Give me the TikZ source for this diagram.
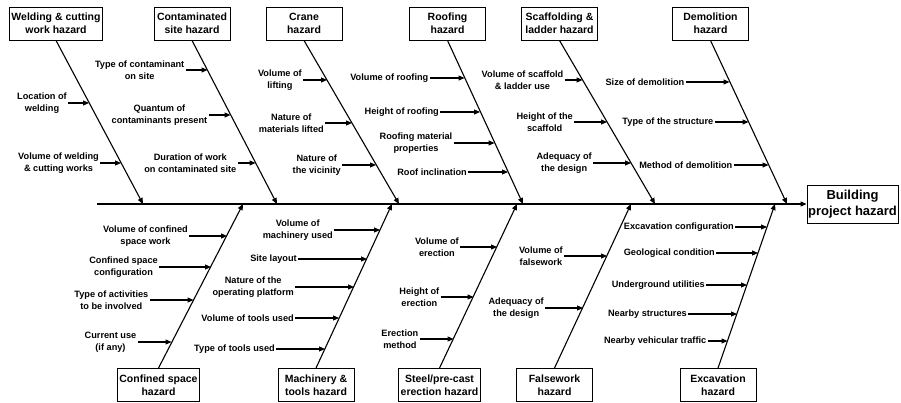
\documentclass[tikz,border=0pt]{standalone}
\usepackage{fontspec}
\setmainfont{Liberation Sans}
\usetikzlibrary{arrows.meta,positioning}

\begin{document}
\begin{tikzpicture}[
  x=1pt, y=-1pt,
  hazard/.style={draw, line width=0.9pt, align=center,
  font=\fontsize{10.5}{13}\selectfont\bfseries, minimum width=76pt,
  minimum height=33pt, inner xsep=2pt, inner ysep=1pt},
  cause/.style={align=center, font=\fontsize{9.2}{12}\selectfont\bfseries, inner sep=1pt},
  arrow/.style={-{Triangle[length=6pt, width=5pt]}, line width=1.1pt}
]
  \useasboundingbox (0,0) rectangle (901,403);

  \node[hazard, font=\fontsize{13}{15.5}\selectfont\bfseries, minimum width=91pt,
    minimum height=38pt, inner xsep=1pt] (effect) at (852.5,204) {Building\\project hazard};
  \coordinate (tail) at (97,204);
  \draw[arrow] (tail) -- (effect.west);

  \node[hazard] (weld) at (56,23.5) {Welding \& cutting\\work hazard};
  \node[hazard] (contam) at (192,23.5) {Contaminated\\site hazard};
  \node[hazard] (crane) at (304,23.5) {Crane\\hazard};
  \node[hazard] (roof) at (447.5,23.5) {Roofing\\hazard};
  \node[hazard] (scaff) at (559.5,23.5) {Scaffolding \&\\ladder hazard};
  \node[hazard] (demo) at (710.5,23.5) {Demolition\\hazard};

  \node[hazard] (confined) at (158.5,385) {Confined space\\hazard};
  \node[hazard] (machine) at (316,385) {Machinery \&\\tools hazard};
  \node[hazard] (steel) at (439.5,385) {Steel/pre-cast\\erection hazard};
  \node[hazard] (falsew) at (554.5,385) {Falsework\\hazard};
  \node[hazard] (excav) at (718,385) {Excavation\\hazard};

  \coordinate (weldend) at (143,204);
  \coordinate (contamend) at (277,204);
  \coordinate (craneend) at (399,204);
  \coordinate (roofend) at (523,204);
  \coordinate (scaffend) at (655,204);
  \coordinate (demoend) at (787,204);
  \coordinate (confinedend) at (243,204);
  \coordinate (machineend) at (392,204);
  \coordinate (steelend) at (517,204);
  \coordinate (falsewend) at (631,204);
  \coordinate (excavend) at (775,204);

  \draw[arrow] (weld.south) -- (weldend);
  \draw[arrow] (contam.south) -- (contamend);
  \draw[arrow] (crane.south) -- (craneend);
  \draw[arrow] (roof.south) -- (roofend);
  \draw[arrow] (scaff.south) -- (scaffend);
  \draw[arrow] (demo.south) -- (demoend);
  \draw[arrow] (confined.north) -- (confinedend);
  \draw[arrow] (machine.north) -- (machineend);
  \draw[arrow] (steel.north) -- (steelend);
  \draw[arrow] (falsew.north) -- (falsewend);
  \draw[arrow] (excav.north) -- (excavend);

  \coordinate (weld1) at (89,103);
  \coordinate (weld2) at (121,163);
  \node[cause, left=21pt of weld1] (weld1txt) {Location of\\welding};
  \node[cause, left=21pt of weld2] (weld2txt) {Volume of welding\\\& cutting works};
  \draw[arrow] (weld1txt.east) -- (weld1);
  \draw[arrow] (weld2txt.east) -- (weld2);

  \coordinate (contam1) at (207.5,70);
  \coordinate (contam2) at (230.5,115);
  \coordinate (contam3) at (255.5,163);
  \node[cause, left=22pt of contam1] (contam1txt) {Type of contaminant\\on site};
  \node[cause, left=22pt of contam2] (contam2txt) {Quantum of\\contaminants present};
  \node[cause, left=18pt of contam3] (contam3txt) {Duration of work\\on contaminated site};
  \draw[arrow] (contam1txt.east) -- (contam1);
  \draw[arrow] (contam2txt.east) -- (contam2);
  \draw[arrow] (contam3txt.east) -- (contam3);

  \coordinate (crane1) at (327,80);
  \coordinate (crane2) at (352,123);
  \coordinate (crane3) at (376,165);
  \node[cause, left=24pt of crane1] (crane1txt) {Volume of\\lifting};
  \node[cause, left=27pt of crane2] (crane2txt) {Nature of\\materials lifted};
  \node[cause, left=34pt of crane3] (crane3txt) {Nature of\\the vicinity};
  \draw[arrow] (crane1txt.east) -- (crane1);
  \draw[arrow] (crane2txt.east) -- (crane2);
  \draw[arrow] (crane3txt.east) -- (crane3);

  \coordinate (roof1) at (464.5,78);
  \coordinate (roof2) at (480,112);
  \coordinate (roof3) at (494.5,143);
  \coordinate (roof4) at (508,172);
  \node[cause, left=35pt of roof1] (roof1txt) {Volume of roofing};
  \node[cause, left=40pt of roof2] (roof2txt) {Height of roofing};
  \node[cause, left=41pt of roof3] (roof3txt) {Roofing material\\properties};
  \node[cause, left=40pt of roof4] (roof4txt) {Roof inclination};
  \draw[arrow] (roof1txt.east) -- (roof1);
  \draw[arrow] (roof2txt.east) -- (roof2);
  \draw[arrow] (roof3txt.east) -- (roof3);
  \draw[arrow] (roof4txt.east) -- (roof4);

  \coordinate (scaff1) at (582.5,80);
  \coordinate (scaff2) at (607,122);
  \coordinate (scaff3) at (631,163);
  \node[cause, left=18pt of scaff1] (scaff1txt) {Volume of scaffold\\\& ladder use};
  \node[cause, left=33pt of scaff2] (scaff2txt) {Height of the\\scaffold};
  \node[cause, left=38pt of scaff3] (scaff3txt) {Adequacy of\\the design};
  \draw[arrow] (scaff1txt.east) -- (scaff1);
  \draw[arrow] (scaff2txt.east) -- (scaff2);
  \draw[arrow] (scaff3txt.east) -- (scaff3);

  \coordinate (demo1) at (729.5,82);
  \coordinate (demo2) at (748.5,122);
  \coordinate (demo3) at (768.5,165);
  \node[cause, left=44pt of demo1] (demo1txt) {Size of demolition};
  \node[cause, left=34pt of demo2] (demo2txt) {Type of the structure};
  \node[cause, left=35pt of demo3] (demo3txt) {Method of demolition};
  \draw[arrow] (demo1txt.east) -- (demo1);
  \draw[arrow] (demo2txt.east) -- (demo2);
  \draw[arrow] (demo3txt.east) -- (demo3);

  \coordinate (confined1) at (227,236);
  \coordinate (confined2) at (211,267);
  \coordinate (confined3) at (193.5,300);
  \coordinate (confined4) at (171.5,342);
  \node[cause, left=38pt of confined1] (confined1txt) {Volume of confined\\space work};
  \node[cause, left=52pt of confined2] (confined2txt) {Confined space\\configuration};
  \node[cause, left=44pt of confined3] (confined3txt) {Type of activities\\to be involved};
  \node[cause, left=34pt of confined4] (confined4txt) {Current use\\(if any)};
  \draw[arrow] (confined1txt.east) -- (confined1);
  \draw[arrow] (confined2txt.east) -- (confined2);
  \draw[arrow] (confined3txt.east) -- (confined3);
  \draw[arrow] (confined4txt.east) -- (confined4);

  \coordinate (machine1) at (380,230);
  \coordinate (machine2) at (367,259);
  \coordinate (machine3) at (354,287);
  \coordinate (machine4) at (339,318);
  \coordinate (machine5) at (325,349);
  \node[cause, left=46pt of machine1] (machine1txt) {Volume of\\machinery used};
  \node[cause, left=69pt of machine2] (machine2txt) {Site layout};
  \node[cause, left=59pt of machine3] (machine3txt) {Nature of the\\operating platform};
  \node[cause, left=44pt of machine4] (machine4txt) {Volume of tools used};
  \node[cause, left=49pt of machine5] (machine5txt) {Type of tools used};
  \draw[arrow] (machine1txt.east) -- (machine1);
  \draw[arrow] (machine2txt.east) -- (machine2);
  \draw[arrow] (machine3txt.east) -- (machine3);
  \draw[arrow] (machine4txt.east) -- (machine4);
  \draw[arrow] (machine5txt.east) -- (machine5);

  \coordinate (steel1) at (497,247);
  \coordinate (steel2) at (473.5,297);
  \coordinate (steel3) at (453.5,339);
  \node[cause, left=37pt of steel1] (steel1txt) {Volume of\\erection};
  \node[cause, left=33pt of steel2] (steel2txt) {Height of\\erection};
  \node[cause, left=34pt of steel3] (steel3txt) {Erection\\method};
  \draw[arrow] (steel1txt.east) -- (steel1);
  \draw[arrow] (steel2txt.east) -- (steel2);
  \draw[arrow] (steel3txt.east) -- (steel3);

  \coordinate (falsew1) at (607,256);
  \coordinate (falsew2) at (583,308);
  \node[cause, left=43pt of falsew1] (falsew1txt) {Volume of\\falsework};
  \node[cause, left=38pt of falsew2] (falsew2txt) {Adequacy of\\the design};
  \draw[arrow] (falsew1txt.east) -- (falsew1);
  \draw[arrow] (falsew2txt.east) -- (falsew2);

  \coordinate (excav1) at (767,227);
  \coordinate (excav2) at (758,253);
  \coordinate (excav3) at (747,285);
  \coordinate (excav4) at (737,314);
  \coordinate (excav5) at (727.5,341);
  \node[cause, left=32pt of excav1] (excav1txt) {Excavation configuration};
  \node[cause, left=42pt of excav2] (excav2txt) {Geological condition};
  \node[cause, left=41pt of excav3] (excav3txt) {Underground utilities};
  \node[cause, left=49pt of excav4] (excav4txt) {Nearby structures};
  \node[cause, left=20pt of excav5] (excav5txt) {Nearby vehicular traffic};
  \draw[arrow] (excav1txt.east) -- (excav1);
  \draw[arrow] (excav2txt.east) -- (excav2);
  \draw[arrow] (excav3txt.east) -- (excav3);
  \draw[arrow] (excav4txt.east) -- (excav4);
  \draw[arrow] (excav5txt.east) -- (excav5);
\end{tikzpicture}
\end{document}
